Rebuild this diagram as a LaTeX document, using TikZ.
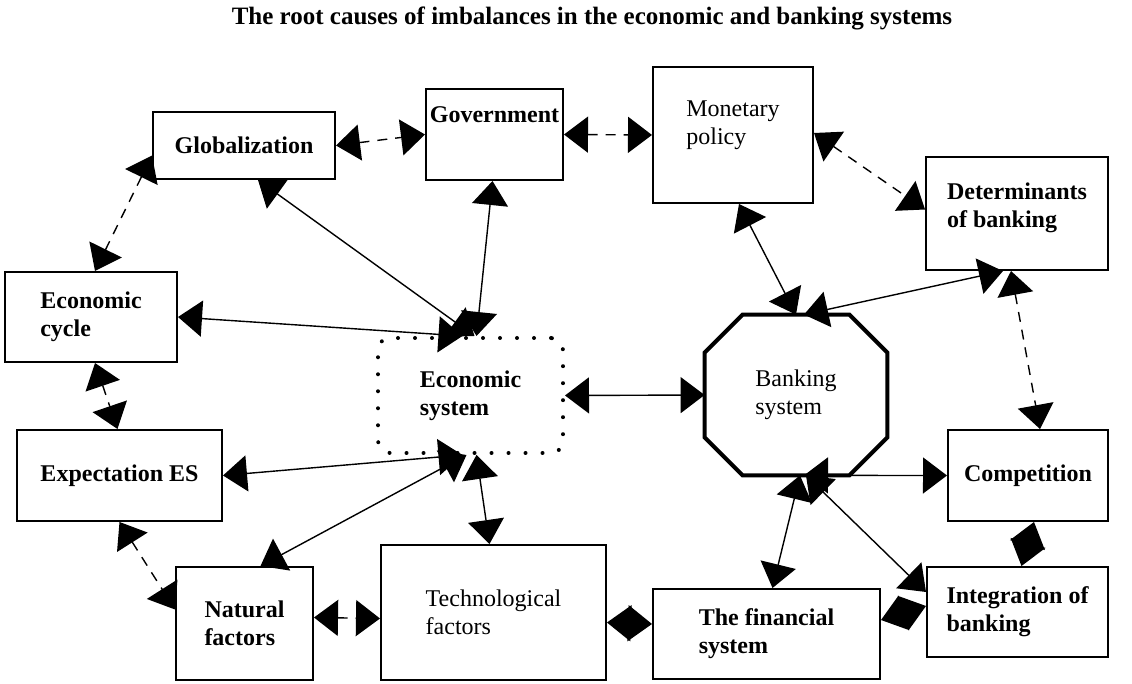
\documentclass[tikz,border=0pt]{standalone}
\usepackage{fontspec}
\setmainfont{Liberation Serif}
\usetikzlibrary{calc, arrows.meta}

\begin{document}
\begin{tikzpicture}
  [x=0.5pt, y=-0.5pt,
    >={Triangle[length=12pt, width=18pt]}]

  \tikzset{
    base/.style={
      align=left,
      inner sep=0pt,
      font=\fontsize{12}{14}\selectfont\bfseries,
    },
    factor/.style={base,
      rectangle,
      draw=black, line width=1pt,
    },
    plain factor/.style={factor,
      font=\fontsize{12}{14}\selectfont,
    },
    dotbox/.style={base,
      rectangle, rounded corners=6pt,
      draw=black, line width=2pt,
      dash pattern=on 0pt off 8.5pt, line cap=round,
    },
    lift/.style 2 args={text height=#1, text depth=#2},
    link/.style={<->, draw, line width=0.7pt},
    loose/.style={<->, draw, line width=0.7pt, dash pattern=on 5pt off 4pt},
  }

  \useasboundingbox (0,0) rectangle (1132,684);

  \node[base, font=\fontsize{12.5}{15}\selectfont\bfseries] (title) at (592,18)
    {The root causes of imbalances in the economic and banking systems};

  % upper row
  \node[factor, minimum width=91pt, minimum height=33.5pt] (glob) at (244,145.5) {Globalization};
  \node[factor, minimum width=68.5pt, minimum height=45.5pt, lift={8pt}{20pt}] (gov) at (494.5,134.5) {Government};
  \node[plain factor, minimum width=80pt, minimum height=68pt, lift={22pt}{12.4pt}] (monet) at (733,135) {Monetary\\policy};
  \node[factor, minimum width=91pt, minimum height=56.5pt, lift={22pt}{8.4pt}] (determ) at (1017,213.5) {Determinants\\of banking};

  % left column
  \node[factor, minimum width=86pt, minimum height=45pt] (cycle) at (91,317) {Economic\\cycle};
  \node[factor, minimum width=102.5pt, minimum height=45.5pt] (expect) at (119.5,475.5) {Expectation ES};

  % the two systems
  \node[dotbox, minimum width=92.5pt, minimum height=57.5pt] (ecosys) at (470.5,395.5) {Economic\\system};
  \node[base, font=\fontsize{12}{14}\selectfont, minimum width=91pt, minimum height=80pt] (banksys) at (796,395) {Banking\\system};
  \draw[line width=2pt]
    ([xshift=19pt]banksys.north west) -- ([xshift=-19pt]banksys.north east) --
    ([yshift=-19pt]banksys.north east) -- ([yshift=19pt]banksys.south east) --
    ([xshift=-19pt]banksys.south east) -- ([xshift=19pt]banksys.south west) --
    ([yshift=19pt]banksys.south west) -- ([yshift=-19pt]banksys.north west) -- cycle;

  % right column
  \node[factor, minimum width=80pt, minimum height=45.5pt] (compet) at (1028,475.5) {Competition};
  \node[factor, minimum width=90.5pt, minimum height=45pt] (integr) at (1017.5,612) {Integration of\\banking};

  % lower row
  \node[factor, minimum width=68.5pt, minimum height=56.5pt] (natur) at (244.5,623.5) {Natural\\factors};
  \node[plain factor, minimum width=112.5pt, minimum height=67.5pt] (techno) at (493.5,612.5) {Technological\\factors};
  \node[factor, minimum width=113.5pt, minimum height=45pt] (finsys) at (766.5,634) {The financial\\system};

  % links to the economic system
  \draw[link] ([xshift=7pt]glob.south) -- ([xshift=2pt]ecosys.north);
  \draw[link] ([xshift=-1pt]gov.south) -- ([xshift=3pt]ecosys.north);
  \draw[link] (cycle.east) -- ([xshift=-4pt]ecosys.north);
  \draw[link] (expect.east) -- ([xshift=-4pt]ecosys.south);
  \draw[link] ([xshift=8pt]natur.north) -- ([xshift=-2pt]ecosys.south);
  \draw[link] ([xshift=-2pt]techno.north) -- ([xshift=3pt]ecosys.south);
  \draw[link] (ecosys.east) -- (banksys.west);

  % links to the banking system
  \draw[link] ([xshift=3pt]monet.south) -- (banksys.north);
  \draw[link] ([xshift=-7pt]determ.south) -- ([xshift=4pt]banksys.north);
  \draw[link] ([xshift=4pt]banksys.south) -- (compet.west);
  \draw[link] ([xshift=2pt]banksys.south) -- ([xshift=3pt]finsys.north);
  \draw[link] ([xshift=5pt]banksys.south) -- ([yshift=10pt]integr.west);
  \draw[link] ([yshift=7pt]finsys.east) -- ([yshift=3pt]integr.west);
  \draw[link] ([xshift=3pt]compet.south) -- ([xshift=2pt]integr.north);
  \draw[link] ([yshift=-5pt]techno.east) -- ([yshift=5pt]finsys.west);

  % weaker links round the outside
  \draw[loose] (glob.east) -- (gov.west);
  \draw[loose] (gov.east) -- (monet.west);
  \draw[loose] ([yshift=1pt]monet.east) -- ([yshift=2pt]determ.west);
  \draw[loose] ([xshift=-3pt]determ.south) -- ([xshift=6pt]compet.north);
  \draw[loose] ([yshift=-5pt]glob.west) -- ([xshift=2pt]cycle.north);
  \draw[loose] ([xshift=2pt]cycle.south) -- ([xshift=-1pt]expect.north);
  \draw[loose] (expect.south) -- ([yshift=7pt]natur.west);
  \draw[loose] ([yshift=3pt]natur.east) -- ([yshift=-3pt]techno.west);
\end{tikzpicture}
\end{document}
